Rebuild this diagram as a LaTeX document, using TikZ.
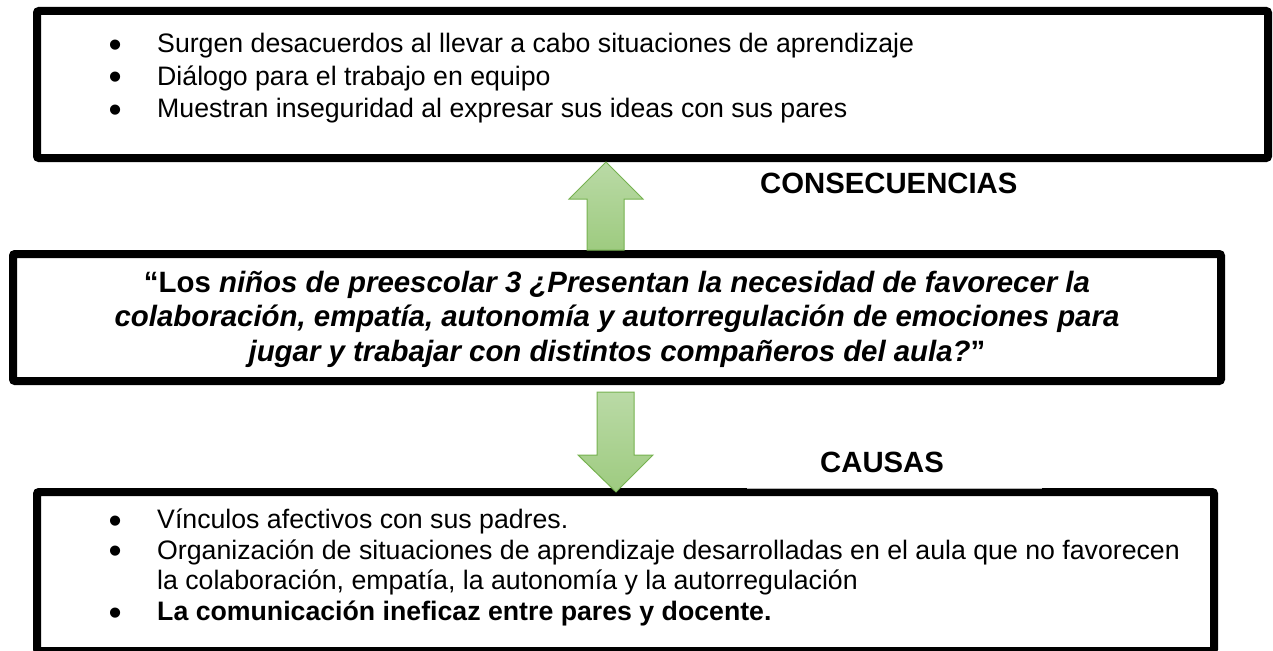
\documentclass[tikz,border=0pt]{standalone}
\usepackage{fontspec}
\usepackage{graphicx}
\setmainfont{Liberation Sans}
\usetikzlibrary{calc}

\definecolor{arrowtop}{RGB}{186,218,166}
\definecolor{arrowbot}{RGB}{158,203,128}
\definecolor{arrowline}{RGB}{118,178,80}

\newcommand{\bulitem}{\makebox[42pt][l]{\makebox[0pt]{\raisebox{-4.5pt}[0pt][0pt]{\scalebox{1.4}{\textbullet}}}}}

\begin{document}
\begin{tikzpicture}[
    x=1pt, y=-1pt,
    box/.style={rectangle, draw, line width=8pt, rounded corners=2pt, fill=white, inner sep=0pt},
    blockarrow/.style={draw=arrowline, line width=1pt, top color=arrowtop, bottom color=arrowbot, line join=miter},
    listtext/.style={anchor=base west, inner sep=0pt},
    heading/.style={anchor=base west, inner sep=0pt, font=\bfseries\fontsize{29.3pt}{34pt}\selectfont}
]
\useasboundingbox (0,0) rectangle (1273,650);

% Row 1: consequences box
\node[box, minimum width=1231pt, minimum height=147pt] (consec) at (652.5,84.5) {};

% Row 2: problem box
\node[box, minimum width=1208pt, minimum height=127pt] (problem) at (617,317.5) {};

% Row 3: causes box
\node[box, minimum width=1177pt, minimum height=159pt] (causes) at (625.5,571.5) {};

% Block arrows between the boxes
\path[blockarrow] ([xshift=-30pt]problem.north) -- ++(0,-51) -- ++(-18,0) -- ++(37,-37)
    -- ++(37,37) -- ++(-19,0) -- ++(0,51) -- cycle;
\path[blockarrow] ([xshift=-20pt,yshift=-7pt]problem.south) -- ++(0,63) -- ++(-19,0) -- ++(38,37)
    -- ++(37,-37) -- ++(-19,0) -- ++(0,-63) -- cycle;

% Texts in the boxes
\node[listtext] (consectext) at (115,53) {\fontsize{26.7pt}{32.5pt}\selectfont
  \begin{tabular}[t]{@{}l@{}}
    \bulitem Surgen desacuerdos al llevar a cabo situaciones de aprendizaje\\
    \bulitem Diálogo para el trabajo en equipo\\
    \bulitem Muestran inseguridad al expresar sus ideas con sus pares
  \end{tabular}};

\node[anchor=base, inner sep=0pt] (problemtext) at (617,292) {\bfseries\fontsize{29.4pt}{34.5pt}\selectfont
  \begin{tabular}[t]{@{}c@{}}
    “Los \textit{niños de preescolar 3 ¿Presentan la necesidad de favorecer la}\\
    \textit{colaboración, empatía, autonomía y autorregulación de emociones para}\\
    \textit{jugar y trabajar con distintos compañeros del aula?}”
  \end{tabular}};

\node[listtext] (causestext) at (115,528.5) {\fontsize{26.7pt}{30.7pt}\selectfont
  \begin{tabular}[t]{@{}l@{}}
    \bulitem Vínculos afectivos con sus padres.\\
    \bulitem Organización de situaciones de aprendizaje desarrolladas en el aula que no favorecen\\
    \hspace{42pt}la colaboración, empatía, la autonomía y la autorregulación\\
    \bulitem \textbf{La comunicación ineficaz entre pares y docente.}
  \end{tabular}};

% Labels for the arrows
\node[heading] (consechead) at (760,193) {CONSECUENCIAS};
\node[heading] (causeshead) at (820,472) {CAUSAS};
\draw[gray!60, line width=1pt] (747,488) -- (1042,488);

\end{tikzpicture}
\end{document}
